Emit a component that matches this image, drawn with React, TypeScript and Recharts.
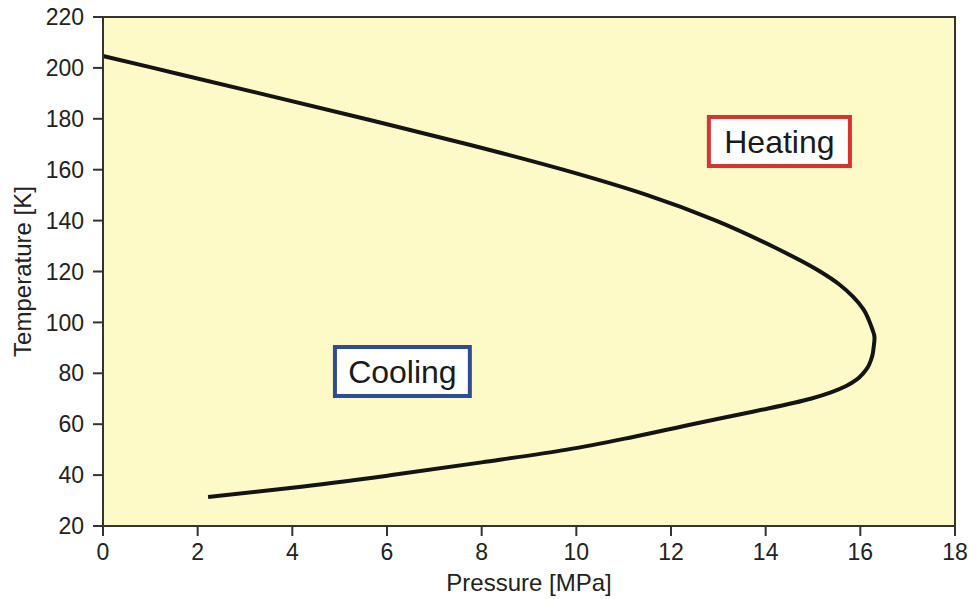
import { LineChart, Line, XAxis, YAxis, ReferenceArea, Label } from "recharts"

// pressure [MPa] and temperature [K] along the curve, upper branch first, then lower branch
const pressure = [0, 1.06, 3.31, 5.53, 7.7, 9.72, 11.5, 12.95, 14.13, 15.15, 15.55, 15.85, 16.07, 16.2, 16.26, 16.3, 16.28, 16.26, 16.22, 16.16, 16.06, 15.92, 15.7, 15.38, 14.95, 13.75, 12.45, 11.2, 9.8, 8.0, 6.1, 4.0, 2.22]
const temperature = [204.7, 200, 190, 180, 170, 160, 150, 140, 130, 120, 115, 110, 105, 100, 97, 94, 90, 87.5, 85, 82.5, 80, 77.5, 75, 72.5, 70, 65, 60, 55, 50, 45, 40, 35, 31.4]

const xTicks = [0, 2, 4, 6, 8, 10, 12, 14, 16, 18]
const yTicks = [20, 40, 60, 80, 100, 120, 140, 160, 180, 200, 220]

const FONT = '"Liberation Sans", Arial, Helvetica, sans-serif'
const AXIS = "#333"
const TEXT = "#222"

export default function App() {
    const data = pressure.map((p, i) => ({ p, t: temperature[i] }))

    return (
        <div style={{ position: "absolute", left: 0, top: 0, width: 971, height: 599, background: "#fff", fontFamily: FONT }}>
            <LineChart width={971} height={599} data={data} margin={{ top: 17, right: 16, left: 0, bottom: 0 }}>
                {/* plot background + frame */}
                <ReferenceArea x1={0} x2={18} y1={20} y2={220} fill="#fefac8" fillOpacity={1} stroke={AXIS} strokeWidth={2} />

                <XAxis
                    type="number"
                    dataKey="p"
                    domain={[0, 18]}
                    ticks={xTicks}
                    height={73}
                    tickSize={10}
                    tickMargin={8}
                    stroke={AXIS}
                    strokeWidth={2}
                    tick={{ fontSize: 23, fill: TEXT, fontFamily: FONT }}
                >
                    <Label value="Pressure [MPa]" position="insideBottom" offset={8} style={{ fontSize: 24, fill: TEXT, fontFamily: FONT }} />
                </XAxis>
                <YAxis
                    type="number"
                    domain={[20, 220]}
                    ticks={yTicks}
                    width={103}
                    tickSize={10}
                    tickMargin={9}
                    stroke={AXIS}
                    strokeWidth={2}
                    tick={{ fontSize: 23, fill: TEXT, fontFamily: FONT }}
                    label={{
                        content: (props: any) => {
                            const vb = props.viewBox
                            const cy = vb.y + vb.height / 2
                            return (
                                <text x={22} y={cy} transform={`rotate(-90, 22, ${cy})`} textAnchor="middle" dominantBaseline="central"
                                    style={{ fontSize: 24, fill: TEXT, fontFamily: FONT }}>
                                    Temperature [K]
                                </text>
                            )
                        },
                    }}
                />

                <ReferenceArea x1={12.8} x2={15.78} y1={161.5} y2={180.7} fill="#fff" fillOpacity={1} stroke="#d93232" strokeWidth={4}>
                    <Label value="Heating" position="center" style={{ fontSize: 32, fill: "#1a1a1a", fontFamily: FONT }} />
                </ReferenceArea>
                <ReferenceArea x1={4.9} x2={7.75} y1={71.1} y2={90.3} fill="#fff" fillOpacity={1} stroke="#2f4b9c" strokeWidth={4}>
                    <Label value="Cooling" position="center" style={{ fontSize: 32, fill: "#1a1a1a", fontFamily: FONT }} />
                </ReferenceArea>

                {/* temperature falls steadily along the path, so a y-monotone curve keeps it smooth */}
                <Line dataKey="t" type="monotoneY" stroke="#141414" strokeWidth={4} dot={false} activeDot={false} isAnimationActive={false} />
            </LineChart>
        </div>
    )
}
